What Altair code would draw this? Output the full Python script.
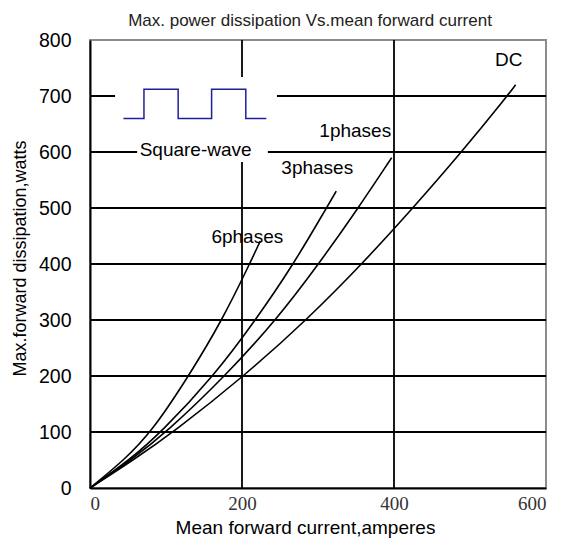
import altair as alt
import pandas as pd

# ---- data ----
dc_x = [0, 57, 110, 203, 285, 358, 425, 489, 549, 560]
dc_y = [0, 50, 100, 200, 300, 400, 500, 600, 700, 720]
ph1_x = [0, 54, 101, 178, 245, 301, 353, 397]
ph1_y = [0, 50, 100, 200, 300, 400, 500, 590]
ph3_x = [0, 52, 94, 163, 218, 268, 311, 324]
ph3_y = [0, 50, 100, 200, 300, 400, 500, 530]
ph6_x = [0, 45, 81, 130, 174, 210, 224]
ph6_y = [0, 50, 100, 200, 300, 400, 441]

label_text = ["DC", "1phases", "3phases", "6phases", "Square-wave"]
label_x = [551, 349, 299, 207, 139]
label_y = [764, 637, 571, 448, 604]

sw_x = [44, 71, 71, 116, 116, 160, 160, 205, 205, 232]
sw_y = [660, 660, 712, 712, 660, 660, 712, 712, 660, 660]

box_x = [33, 62]
box_x2 = [246, 234]
box_y = [734, 621]
box_y2 = [612, 582]

grid_y = [100, 200, 300, 400, 500, 600, 700]
grid_x = [200, 400]

x_ticks = [0, 200, 400, 600]
y_ticks = [0, 100, 200, 300, 400, 500, 600, 700, 800]

# ---- tables ----
rows = []
for name, xs, ys in [("DC", dc_x, dc_y), ("1phases", ph1_x, ph1_y),
                     ("3phases", ph3_x, ph3_y), ("6phases", ph6_x, ph6_y)]:
    for i, (a, b) in enumerate(zip(xs, ys)):
        rows.append({"series": name, "x": a, "y": b, "o": i})
curves_df = pd.DataFrame(rows)
labels_df = pd.DataFrame({"x": label_x, "y": label_y, "t": label_text})
sw_df = pd.DataFrame({"x": sw_x, "y": sw_y, "o": list(range(len(sw_x)))})
box_df = pd.DataFrame({"x": box_x, "x2": box_x2, "y": box_y, "y2": box_y2})
gy_df = pd.DataFrame({"y": grid_y})
gx_df = pd.DataFrame({"x": grid_x})

sx = alt.Scale(domain=[0, 600], nice=False)
sy = alt.Scale(domain=[0, 800], nice=False)

ax_x = alt.Axis(values=x_ticks, grid=False, ticks=False, domainColor="black",
                domainWidth=2, labelFont="Liberation Serif", labelFontSize=19,
                labelColor="#333333", labelPadding=6, title="Mean forward  current,amperes",
                titleFont="Liberation Sans", titleFontSize=19, titleFontWeight="normal",
                titleColor="black", titlePadding=5, titleX=215)
ax_y = alt.Axis(values=y_ticks, grid=False, ticks=False, domainColor="black",
                domainWidth=2, labelFont="Liberation Sans", labelFontSize=19.5,
                labelColor="black", labelPadding=19, title="Max.forward  dissipation,watts",
                titleFont="Liberation Sans", titleFontSize=18, titleFontWeight="normal",
                titleColor="black", titlePadding=9, titleY=218)

X = lambda f: alt.X(f, scale=sx, axis=ax_x)
Y = lambda f: alt.Y(f, scale=sy, axis=ax_y)

gh = alt.Chart(gy_df).mark_rule(color="black", strokeWidth=1.8).encode(y=Y("y:Q"))
gv = alt.Chart(gx_df).mark_rule(color="black", strokeWidth=1.8).encode(x=X("x:Q"))
box = alt.Chart(box_df).mark_rect(color="white").encode(
    x=X("x:Q"), x2="x2:Q", y=Y("y:Q"), y2="y2:Q")
curves = alt.Chart(curves_df).mark_line(color="black", strokeWidth=1.6,
                                        interpolate="basis").encode(
    x=X("x:Q"), y=Y("y:Q"), detail="series:N", order="o:Q")
sw = alt.Chart(sw_df).mark_line(color="#1f1f9e", strokeWidth=1.5).encode(
    x=X("x:Q"), y=Y("y:Q"), order="o:Q")
labels = alt.Chart(labels_df).mark_text(font="Liberation Sans", fontSize=19,
                                        color="black").encode(
    x=X("x:Q"), y=Y("y:Q"), text="t:N")

chart = alt.layer(gh, gv, box, curves, sw, labels).properties(
    width=456, height=448,
    title=alt.TitleParams("Max. power dissipation  Vs.mean  forward  current",
                          font="Liberation Sans", fontSize=17, frame="group",
                          fontWeight="normal", color="#222222", dx=-8, offset=0),
    padding={"left": 82, "top": 32, "right": 9, "bottom": 52},
    autosize="none",
).configure_view(stroke="#8c8c8c", strokeWidth=2)

chart.save("out.html", embed_options={"renderer": "svg", "actions": False})
